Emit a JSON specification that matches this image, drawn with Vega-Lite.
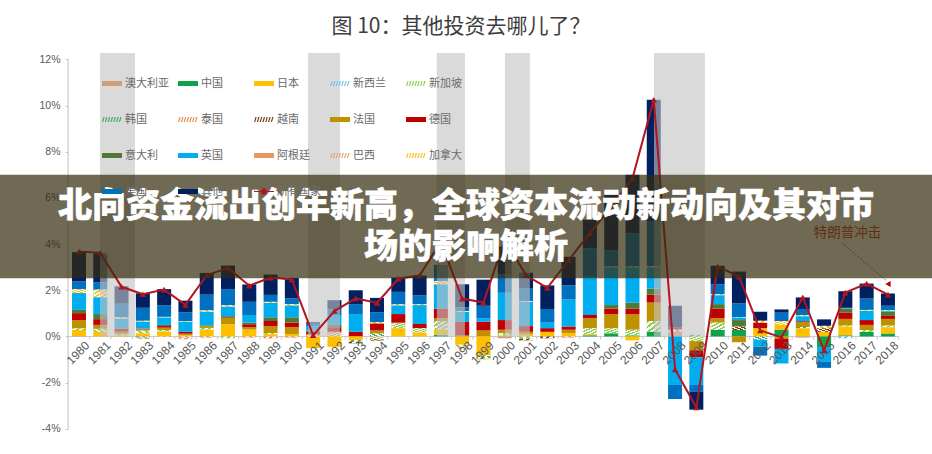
{
"$schema":"https://vega.github.io/schema/vega-lite/v6.json",
"width":932,"height":454,"autosize":"none","padding":0,"background":"white",
"title":{"text":"图 10：其他投资去哪儿了？","font":"Noto Sans CJK SC","fontSize":21,"fontWeight":"normal","color":"#3d3d3d","anchor":"middle","dx":-5,"dy":41},
"config":{"view":{"stroke":null},"axis":{"grid":false}},
"datasets":{
"bars":[
{"year":1980,"country":"澳大利亚","order":1,"value":0.02},{"year":1980,"country":"日本","order":3,"value":0.26},{"year":1980,"country":"新加坡","order":5,"value":0.07},{"year":1980,"country":"法国","order":9,"value":0.35},{"year":1980,"country":"德国","order":10,"value":0.31},{"year":1980,"country":"意大利","order":11,"value":0.14},{"year":1980,"country":"英国","order":12,"value":0.73},{"year":1980,"country":"加拿大","order":15,"value":0.17},{"year":1980,"country":"美国","order":16,"value":0.33},{"year":1980,"country":"其他","order":17,"value":1.27},
{"year":1981,"country":"日本","order":3,"value":0.2},{"year":1981,"country":"新加坡","order":5,"value":0.13},{"year":1981,"country":"法国","order":9,"value":0.17},{"year":1981,"country":"德国","order":10,"value":0.25},{"year":1981,"country":"意大利","order":11,"value":0.22},{"year":1981,"country":"英国","order":12,"value":0.73},{"year":1981,"country":"加拿大","order":15,"value":0.33},{"year":1981,"country":"美国","order":16,"value":0.32},{"year":1981,"country":"其他","order":17,"value":1.25},
{"year":1982,"country":"日本","order":3,"value":0.05},{"year":1982,"country":"新加坡","order":5,"value":0.05},{"year":1982,"country":"法国","order":9,"value":0.1},{"year":1982,"country":"德国","order":10,"value":0.15},{"year":1982,"country":"英国","order":12,"value":0.43},{"year":1982,"country":"加拿大","order":15,"value":0.05},{"year":1982,"country":"美国","order":16,"value":0.59},{"year":1982,"country":"其他","order":17,"value":0.75},
{"year":1983,"country":"日本","order":3,"value":0.14},{"year":1983,"country":"新加坡","order":5,"value":0.11},{"year":1983,"country":"法国","order":9,"value":0.06},{"year":1983,"country":"德国","order":10,"value":0.02},{"year":1983,"country":"意大利","order":11,"value":0.02},{"year":1983,"country":"英国","order":12,"value":0.3},{"year":1983,"country":"加拿大","order":15,"value":0.03},{"year":1983,"country":"美国","order":16,"value":0.56},{"year":1983,"country":"其他","order":17,"value":0.63},{"year":1983,"country":"韩国","order":6,"value":-0.05},{"year":1983,"country":"泰国","order":7,"value":-0.05},
{"year":1984,"country":"日本","order":3,"value":0.22},{"year":1984,"country":"新加坡","order":5,"value":0.06},{"year":1984,"country":"法国","order":9,"value":0.1},{"year":1984,"country":"德国","order":10,"value":0.07},{"year":1984,"country":"意大利","order":11,"value":0.05},{"year":1984,"country":"英国","order":12,"value":0.33},{"year":1984,"country":"加拿大","order":15,"value":0.02},{"year":1984,"country":"美国","order":16,"value":0.5},{"year":1984,"country":"其他","order":17,"value":0.7},{"year":1984,"country":"泰国","order":7,"value":-0.02},
{"year":1985,"country":"日本","order":3,"value":0.05},{"year":1985,"country":"法国","order":9,"value":0.07},{"year":1985,"country":"德国","order":10,"value":0.08},{"year":1985,"country":"英国","order":12,"value":0.45},{"year":1985,"country":"加拿大","order":15,"value":0.02},{"year":1985,"country":"美国","order":16,"value":0.38},{"year":1985,"country":"其他","order":17,"value":0.5},{"year":1985,"country":"泰国","order":7,"value":-0.05},{"year":1985,"country":"巴西","order":14,"value":-0.07},
{"year":1986,"country":"日本","order":3,"value":0.3},{"year":1986,"country":"新加坡","order":5,"value":0.07},{"year":1986,"country":"法国","order":9,"value":0.08},{"year":1986,"country":"意大利","order":11,"value":0.03},{"year":1986,"country":"英国","order":12,"value":0.6},{"year":1986,"country":"加拿大","order":15,"value":0.05},{"year":1986,"country":"美国","order":16,"value":0.68},{"year":1986,"country":"其他","order":17,"value":0.94},{"year":1986,"country":"泰国","order":7,"value":-0.05},
{"year":1987,"country":"日本","order":3,"value":0.53},{"year":1987,"country":"法国","order":9,"value":0.27},{"year":1987,"country":"德国","order":10,"value":0.03},{"year":1987,"country":"意大利","order":11,"value":0.05},{"year":1987,"country":"英国","order":12,"value":0.42},{"year":1987,"country":"加拿大","order":15,"value":0.05},{"year":1987,"country":"美国","order":16,"value":0.7},{"year":1987,"country":"其他","order":17,"value":1.02},{"year":1987,"country":"新加坡","order":5,"value":-0.08},
{"year":1988,"country":"日本","order":3,"value":0.3},{"year":1988,"country":"法国","order":9,"value":0.1},{"year":1988,"country":"德国","order":10,"value":0.13},{"year":1988,"country":"意大利","order":11,"value":0.07},{"year":1988,"country":"英国","order":12,"value":0.33},{"year":1988,"country":"美国","order":16,"value":0.57},{"year":1988,"country":"其他","order":17,"value":0.75},{"year":1988,"country":"泰国","order":7,"value":-0.05},
{"year":1989,"country":"日本","order":3,"value":0.1},{"year":1989,"country":"新加坡","order":5,"value":0.05},{"year":1989,"country":"法国","order":9,"value":0.3},{"year":1989,"country":"德国","order":10,"value":0.22},{"year":1989,"country":"意大利","order":11,"value":0.16},{"year":1989,"country":"英国","order":12,"value":0.62},{"year":1989,"country":"加拿大","order":15,"value":0.05},{"year":1989,"country":"美国","order":16,"value":0.3},{"year":1989,"country":"其他","order":17,"value":0.88},{"year":1989,"country":"泰国","order":7,"value":-0.08},
{"year":1990,"country":"日本","order":3,"value":0.1},{"year":1990,"country":"法国","order":9,"value":0.3},{"year":1990,"country":"德国","order":10,"value":0.2},{"year":1990,"country":"意大利","order":11,"value":0.23},{"year":1990,"country":"英国","order":12,"value":0.52},{"year":1990,"country":"加拿大","order":15,"value":0.05},{"year":1990,"country":"美国","order":16,"value":0.25},{"year":1990,"country":"其他","order":17,"value":0.88},{"year":1990,"country":"泰国","order":7,"value":-0.05},
{"year":1991,"country":"泰国","order":7,"value":0.05},{"year":1991,"country":"法国","order":9,"value":0.05},{"year":1991,"country":"德国","order":10,"value":0.1},{"year":1991,"country":"意大利","order":11,"value":0.05},{"year":1991,"country":"英国","order":12,"value":0.2},{"year":1991,"country":"美国","order":16,"value":0.1},{"year":1991,"country":"其他","order":17,"value":0.07},{"year":1991,"country":"日本","order":3,"value":-0.5},
{"year":1992,"country":"泰国","order":7,"value":0.2},{"year":1992,"country":"德国","order":10,"value":0.2},{"year":1992,"country":"意大利","order":11,"value":0.1},{"year":1992,"country":"英国","order":12,"value":0.43},{"year":1992,"country":"美国","order":16,"value":0.25},{"year":1992,"country":"其他","order":17,"value":0.39},{"year":1992,"country":"日本","order":3,"value":-0.45},
{"year":1993,"country":"德国","order":10,"value":0.2},{"year":1993,"country":"英国","order":12,"value":0.77},{"year":1993,"country":"美国","order":16,"value":0.43},{"year":1993,"country":"其他","order":17,"value":0.6},{"year":1993,"country":"日本","order":3,"value":-0.15},{"year":1993,"country":"韩国","order":6,"value":-0.08},{"year":1993,"country":"越南","order":8,"value":-0.07},
{"year":1994,"country":"韩国","order":6,"value":0.13},{"year":1994,"country":"法国","order":9,"value":0.13},{"year":1994,"country":"德国","order":10,"value":0.31},{"year":1994,"country":"加拿大","order":15,"value":0.05},{"year":1994,"country":"美国","order":16,"value":0.43},{"year":1994,"country":"其他","order":17,"value":0.62},{"year":1994,"country":"新加坡","order":5,"value":-0.06},{"year":1994,"country":"泰国","order":7,"value":-0.06},{"year":1994,"country":"越南","order":8,"value":-0.06},
{"year":1995,"country":"日本","order":3,"value":0.36},{"year":1995,"country":"新加坡","order":5,"value":0.21},{"year":1995,"country":"法国","order":9,"value":0.03},{"year":1995,"country":"德国","order":10,"value":0.37},{"year":1995,"country":"英国","order":12,"value":0.38},{"year":1995,"country":"加拿大","order":15,"value":0.04},{"year":1995,"country":"美国","order":16,"value":0.54},{"year":1995,"country":"其他","order":17,"value":0.62},
{"year":1996,"country":"日本","order":3,"value":0.17},{"year":1996,"country":"新加坡","order":5,"value":0.19},{"year":1996,"country":"德国","order":10,"value":0.18},{"year":1996,"country":"英国","order":12,"value":0.82},{"year":1996,"country":"加拿大","order":15,"value":0.04},{"year":1996,"country":"美国","order":16,"value":0.39},{"year":1996,"country":"其他","order":17,"value":0.85},
{"year":1997,"country":"中国","order":2,"value":0.07},{"year":1997,"country":"日本","order":3,"value":0.23},{"year":1997,"country":"新加坡","order":5,"value":0.37},{"year":1997,"country":"法国","order":9,"value":0.12},{"year":1997,"country":"德国","order":10,"value":0.42},{"year":1997,"country":"英国","order":12,"value":1.05},{"year":1997,"country":"加拿大","order":15,"value":0.14},{"year":1997,"country":"美国","order":16,"value":0.7},
{"year":1998,"country":"中国","order":2,"value":0.05},{"year":1998,"country":"德国","order":10,"value":0.58},{"year":1998,"country":"英国","order":12,"value":0.43},{"year":1998,"country":"加拿大","order":15,"value":0.04},{"year":1998,"country":"美国","order":16,"value":0.16},{"year":1998,"country":"其他","order":17,"value":1.0},{"year":1998,"country":"日本","order":3,"value":-0.35},{"year":1998,"country":"新加坡","order":5,"value":-0.1},{"year":1998,"country":"泰国","order":7,"value":-0.1},
{"year":1999,"country":"法国","order":9,"value":0.26},{"year":1999,"country":"德国","order":10,"value":0.38},{"year":1999,"country":"英国","order":12,"value":0.15},{"year":1999,"country":"美国","order":16,"value":0.54},{"year":1999,"country":"其他","order":17,"value":1.13},{"year":1999,"country":"日本","order":3,"value":-0.8},{"year":1999,"country":"新加坡","order":5,"value":-0.05},{"year":1999,"country":"韩国","order":6,"value":-0.1},{"year":1999,"country":"加拿大","order":15,"value":-0.05},
{"year":2000,"country":"日本","order":3,"value":0.05},{"year":2000,"country":"新加坡","order":5,"value":0.09},{"year":2000,"country":"法国","order":9,"value":0.15},{"year":2000,"country":"德国","order":10,"value":0.42},{"year":2000,"country":"英国","order":12,"value":1.18},{"year":2000,"country":"美国","order":16,"value":0.8},{"year":2000,"country":"其他","order":17,"value":1.2},{"year":2000,"country":"澳大利亚","order":1,"value":-0.08},
{"year":2001,"country":"日本","order":3,"value":0.1},{"year":2001,"country":"法国","order":9,"value":0.1},{"year":2001,"country":"德国","order":10,"value":0.25},{"year":2001,"country":"英国","order":12,"value":1.05},{"year":2001,"country":"加拿大","order":15,"value":0.03},{"year":2001,"country":"美国","order":16,"value":0.54},{"year":2001,"country":"其他","order":17,"value":0.69},{"year":2001,"country":"新加坡","order":5,"value":-0.1},{"year":2001,"country":"越南","order":8,"value":-0.07},
{"year":2002,"country":"日本","order":3,"value":0.2},{"year":2002,"country":"德国","order":10,"value":0.16},{"year":2002,"country":"英国","order":12,"value":0.24},{"year":2002,"country":"美国","order":16,"value":0.59},{"year":2002,"country":"其他","order":17,"value":1.02},{"year":2002,"country":"越南","order":8,"value":-0.08},
{"year":2003,"country":"日本","order":3,"value":0.14},{"year":2003,"country":"法国","order":9,"value":0.15},{"year":2003,"country":"德国","order":10,"value":0.14},{"year":2003,"country":"英国","order":12,"value":1.17},{"year":2003,"country":"美国","order":16,"value":0.61},{"year":2003,"country":"其他","order":17,"value":1.24},{"year":2003,"country":"泰国","order":7,"value":-0.05},
{"year":2004,"country":"中国","order":2,"value":0.05},{"year":2004,"country":"日本","order":3,"value":0.05},{"year":2004,"country":"新加坡","order":5,"value":0.26},{"year":2004,"country":"法国","order":9,"value":0.43},{"year":2004,"country":"德国","order":10,"value":0.14},{"year":2004,"country":"英国","order":12,"value":1.65},{"year":2004,"country":"美国","order":16,"value":1.24},{"year":2004,"country":"其他","order":17,"value":1.23},
{"year":2005,"country":"中国","order":2,"value":0.14},{"year":2005,"country":"新加坡","order":5,"value":0.22},{"year":2005,"country":"法国","order":9,"value":0.61},{"year":2005,"country":"德国","order":10,"value":0.24},{"year":2005,"country":"意大利","order":11,"value":0.15},{"year":2005,"country":"英国","order":12,"value":1.64},{"year":2005,"country":"加拿大","order":15,"value":0.03},{"year":2005,"country":"美国","order":16,"value":0.71},{"year":2005,"country":"其他","order":17,"value":2.46},
{"year":2006,"country":"中国","order":2,"value":0.05},{"year":2006,"country":"新加坡","order":5,"value":0.24},{"year":2006,"country":"法国","order":9,"value":0.67},{"year":2006,"country":"德国","order":10,"value":0.25},{"year":2006,"country":"意大利","order":11,"value":0.25},{"year":2006,"country":"英国","order":12,"value":1.54},{"year":2006,"country":"加拿大","order":15,"value":0.03},{"year":2006,"country":"美国","order":16,"value":1.44},{"year":2006,"country":"其他","order":17,"value":2.53},{"year":2006,"country":"日本","order":3,"value":-0.17},
{"year":2007,"country":"中国","order":2,"value":0.2},{"year":2007,"country":"新加坡","order":5,"value":0.47},{"year":2007,"country":"法国","order":9,"value":0.8},{"year":2007,"country":"德国","order":10,"value":0.34},{"year":2007,"country":"意大利","order":11,"value":0.26},{"year":2007,"country":"英国","order":12,"value":0.93},{"year":2007,"country":"加拿大","order":15,"value":0.05},{"year":2007,"country":"美国","order":16,"value":1.95},{"year":2007,"country":"其他","order":17,"value":5.25},
{"year":2008,"country":"澳大利亚","order":1,"value":0.2},{"year":2008,"country":"泰国","order":7,"value":0.1},{"year":2008,"country":"德国","order":10,"value":0.08},{"year":2008,"country":"其他","order":17,"value":0.95},{"year":2008,"country":"英国","order":12,"value":-2.1},{"year":2008,"country":"美国","order":16,"value":-0.61},
{"year":2009,"country":"韩国","order":6,"value":0.07},{"year":2009,"country":"新加坡","order":5,"value":-0.2},{"year":2009,"country":"法国","order":9,"value":-0.4},{"year":2009,"country":"德国","order":10,"value":-0.3},{"year":2009,"country":"英国","order":12,"value":-1.2},{"year":2009,"country":"美国","order":16,"value":-0.3},{"year":2009,"country":"其他","order":17,"value":-0.77},
{"year":2010,"country":"中国","order":2,"value":0.28},{"year":2010,"country":"新加坡","order":5,"value":0.32},{"year":2010,"country":"法国","order":9,"value":0.19},{"year":2010,"country":"德国","order":10,"value":0.42},{"year":2010,"country":"意大利","order":11,"value":0.19},{"year":2010,"country":"英国","order":12,"value":0.39},{"year":2010,"country":"加拿大","order":15,"value":0.04},{"year":2010,"country":"美国","order":16,"value":0.43},{"year":2010,"country":"其他","order":17,"value":0.8},
{"year":2011,"country":"中国","order":2,"value":0.28},{"year":2011,"country":"越南","order":8,"value":0.15},{"year":2011,"country":"意大利","order":11,"value":0.28},{"year":2011,"country":"英国","order":12,"value":0.1},{"year":2011,"country":"加拿大","order":15,"value":0.02},{"year":2011,"country":"美国","order":16,"value":0.6},{"year":2011,"country":"其他","order":17,"value":1.38},{"year":2011,"country":"法国","order":9,"value":-0.25},
{"year":2012,"country":"日本","order":3,"value":0.36},{"year":2012,"country":"德国","order":10,"value":0.24},{"year":2012,"country":"加拿大","order":15,"value":0.08},{"year":2012,"country":"其他","order":17,"value":0.39},{"year":2012,"country":"韩国","order":6,"value":-0.14},{"year":2012,"country":"英国","order":12,"value":-0.3},{"year":2012,"country":"美国","order":16,"value":-0.39},
{"year":2013,"country":"中国","order":2,"value":0.3},{"year":2013,"country":"日本","order":3,"value":0.2},{"year":2013,"country":"加拿大","order":15,"value":0.17},{"year":2013,"country":"美国","order":16,"value":0.36},{"year":2013,"country":"其他","order":17,"value":0.14},{"year":2013,"country":"法国","order":9,"value":-0.1},{"year":2013,"country":"德国","order":10,"value":-0.44},{"year":2013,"country":"英国","order":12,"value":-0.63},
{"year":2014,"country":"韩国","order":6,"value":0.05},{"year":2014,"country":"日本","order":3,"value":0.36},{"year":2014,"country":"法国","order":9,"value":0.21},{"year":2014,"country":"德国","order":10,"value":0.04},{"year":2014,"country":"英国","order":12,"value":0.22},{"year":2014,"country":"加拿大","order":15,"value":0.05},{"year":2014,"country":"美国","order":16,"value":0.26},{"year":2014,"country":"其他","order":17,"value":0.5},{"year":2014,"country":"澳大利亚","order":1,"value":-0.05},
{"year":2015,"country":"日本","order":3,"value":0.2},{"year":2015,"country":"越南","order":8,"value":0.16},{"year":2015,"country":"加拿大","order":15,"value":0.1},{"year":2015,"country":"其他","order":17,"value":0.28},{"year":2015,"country":"中国","order":2,"value":-0.46},{"year":2015,"country":"英国","order":12,"value":-0.64},{"year":2015,"country":"美国","order":16,"value":-0.26},
{"year":2016,"country":"中国","order":2,"value":0.05},{"year":2016,"country":"日本","order":3,"value":0.38},{"year":2016,"country":"新加坡","order":5,"value":0.04},{"year":2016,"country":"法国","order":9,"value":0.29},{"year":2016,"country":"德国","order":10,"value":0.28},{"year":2016,"country":"意大利","order":11,"value":0.17},{"year":2016,"country":"英国","order":12,"value":0.03},{"year":2016,"country":"其他","order":17,"value":0.72},{"year":2016,"country":"新西兰","order":4,"value":-0.08},
{"year":2017,"country":"中国","order":2,"value":0.2},{"year":2017,"country":"新加坡","order":5,"value":0.08},{"year":2017,"country":"法国","order":9,"value":0.22},{"year":2017,"country":"德国","order":10,"value":0.21},{"year":2017,"country":"英国","order":12,"value":0.4},{"year":2017,"country":"加拿大","order":15,"value":0.04},{"year":2017,"country":"美国","order":16,"value":0.49},{"year":2017,"country":"其他","order":17,"value":0.65},
{"year":2018,"country":"中国","order":2,"value":0.13},{"year":2018,"country":"日本","order":3,"value":0.27},{"year":2018,"country":"新加坡","order":5,"value":0.07},{"year":2018,"country":"法国","order":9,"value":0.29},{"year":2018,"country":"德国","order":10,"value":0.13},{"year":2018,"country":"意大利","order":11,"value":0.18},{"year":2018,"country":"英国","order":12,"value":0.04},{"year":2018,"country":"加拿大","order":15,"value":0.03},{"year":2018,"country":"美国","order":16,"value":0.19},{"year":2018,"country":"其他","order":17,"value":0.53}
],
"total":[
{"year":1980,"country":"所有国家","value":3.68},{"year":1981,"country":"所有国家","value":3.62},{"year":1982,"country":"所有国家","value":2.15},{"year":1983,"country":"所有国家","value":1.83},{"year":1984,"country":"所有国家","value":2.03},{"year":1985,"country":"所有国家","value":1.37},{"year":1986,"country":"所有国家","value":2.65},{"year":1987,"country":"所有国家","value":2.97},{"year":1988,"country":"所有国家","value":2.2},{"year":1989,"country":"所有国家","value":2.55},{"year":1990,"country":"所有国家","value":2.47},{"year":1991,"country":"所有国家","value":0.05},{"year":1992,"country":"所有国家","value":1.1},{"year":1993,"country":"所有国家","value":1.65},{"year":1994,"country":"所有国家","value":1.45},{"year":1995,"country":"所有国家","value":2.5},{"year":1996,"country":"所有国家","value":2.64},{"year":1997,"country":"所有国家","value":4.1},{"year":1998,"country":"所有国家","value":1.64},{"year":1999,"country":"所有国家","value":1.47},{"year":2000,"country":"所有国家","value":4.2},{"year":2001,"country":"所有国家","value":2.65},{"year":2002,"country":"所有国家","value":2.1},{"year":2003,"country":"所有国家","value":3.3},{"year":2004,"country":"所有国家","value":4.47},{"year":2005,"country":"所有国家","value":5.6},{"year":2006,"country":"所有国家","value":6.85},{"year":2007,"country":"所有国家","value":10.25},{"year":2008,"country":"所有国家","value":-1.43},{"year":2009,"country":"所有国家","value":-3.07},{"year":2010,"country":"所有国家","value":3.03},{"year":2011,"country":"所有国家","value":2.6},{"year":2012,"country":"所有国家","value":0.26},{"year":2013,"country":"所有国家","value":-0.04},{"year":2014,"country":"所有国家","value":1.69},{"year":2015,"country":"所有国家","value":-0.61},{"year":2016,"country":"所有国家","value":1.9},{"year":2017,"country":"所有国家","value":2.29},{"year":2018,"country":"所有国家","value":1.81}
],
"edges":[{"year":1979.5},{"year":1980.5},{"year":1981.5},{"year":1982.5},{"year":1983.5},{"year":1984.5},{"year":1985.5},{"year":1986.5},{"year":1987.5},{"year":1988.5},{"year":1989.5},{"year":1990.5},{"year":1991.5},{"year":1992.5},{"year":1993.5},{"year":1994.5},{"year":1995.5},{"year":1996.5},{"year":1997.5},{"year":1998.5},{"year":1999.5},{"year":2000.5},{"year":2001.5},{"year":2002.5},{"year":2003.5},{"year":2004.5},{"year":2005.5},{"year":2006.5},{"year":2007.5},{"year":2008.5},{"year":2009.5},{"year":2010.5},{"year":2011.5},{"year":2012.5},{"year":2013.5},{"year":2014.5},{"year":2015.5},{"year":2016.5},{"year":2017.5},{"year":2018.5}],
"bands":[{"start":1980.99,"end":1982.63,"low":0,"high":12.28},{"start":1990.76,"end":1992.26,"low":0,"high":12.28},{"start":1996.81,"end":1998.13,"low":0,"high":12.28},{"start":2000.01,"end":2001.18,"low":0,"high":12.28},{"start":2007.01,"end":2009.4,"low":0,"high":12.28}],
"trump":[{"year":2015.84,"value":4.05},{"year":2017.95,"value":2.4}]
},
"encoding":{"x":{"type":"quantitative","scale":{"domain":[1976.29,2020.07],"nice":false,"zero":false,"padding":0},"axis":null}},
"layer":[
{"data":{"name":"edges"},"mark":{"type":"rule","color":"#c9c9c9","strokeWidth":1},
 "encoding":{"x":{"field":"year","type":"quantitative"},"y":{"datum":-0.13,"type":"quantitative"},"y2":{"datum":0}}},
{"data":{"name":"edges"},"transform":[{"aggregate":[{"op":"min","field":"year","as":"lo"},{"op":"max","field":"year","as":"hi"}]}],"mark":{"type":"rule","color":"#c9c9c9","strokeWidth":1},
 "encoding":{"x":{"field":"lo","type":"quantitative"},"x2":{"field":"hi"},"y":{"datum":0,"type":"quantitative"}}},
{"data":{"values":[{"year":1979.49,"low":-4,"high":12}]},"mark":{"type":"rule","color":"#c9c9c9","strokeWidth":1.2},
 "encoding":{"x":{"field":"year","type":"quantitative"},"y":{"field":"low","type":"quantitative","scale":{"domain":[-5.09,14.57],"nice":false,"zero":false},"axis":{"orient":"left","offset":-68,"title":null,"domain":false,"values":[-4,-2,0,2,4,6,8,10,12],"labelExpr":"datum.value + '%'","labelFont":"Liberation Sans","labelFontSize":10.5,"labelColor":"#595959","tickColor":"#c9c9c9","tickSize":3,"labelPadding":5}},"y2":{"field":"high"}}},
{"data":{"name":"bars"},"mark":{"type":"bar","size":14,"orient":"vertical"},
 "encoding":{"x":{"field":"year","type":"quantitative"},
 "y":{"field":"value","type":"quantitative","stack":"zero"},
 "order":{"field":"order","type":"quantitative"},
 "color":{"field":"country","type":"nominal","scale":{"domain":["澳大利亚","中国","日本","新西兰","新加坡","韩国","泰国","越南","法国","德国","意大利","英国","阿根廷","巴西","加拿大","美国","其他","所有国家"],
 "range":["#cb9e7c","#0fa24a","#ffc000","#6fc4ea","#8fce4f","#3fa96b","#e98b4a","#7a3b10","#bf9000","#c00000","#4f7a35","#00aeef","#e9975a","#e2a27f","#f5c21c","#0070c0","#002060","#b3141e"]},
 "legend":{"orient":"none","legendX":102,"legendY":73.5,"direction":"horizontal","columns":5,"title":null,"symbolLimit":0,"labelFont":"Noto Sans CJK SC","labelFontSize":11,"labelColor":"#6a6a6a","labelLimit":60,"gridAlign":"all","columnPadding":9,"rowPadding":21,"symbolType":"M-1,-0.25H1V0.25H-1Z","symbolSize":400,"symbolStrokeWidth":0,"labelOffset":3,
 "encode":{"symbols":{"update":{"opacity":{"value":1},"fill":{"scale":"color","field":"value"},"stroke":{"value":"transparent"},"shape":{"signal":"datum.value === '所有国家' ? 'M-1,-0.06H-0.3L0,-0.4L0.3,-0.06H1V0.06H0.3L0.2,0.3H-0.2L-0.3,0.06H-1Z' : indexof(['新西兰','新加坡','韩国','泰国','越南','巴西','加拿大'], datum.value) >= 0 ? 'M-1,0.25h0.12l0.15,-0.5h-0.12zm0.28,0h0.12l0.15,-0.5h-0.12zm0.28,0h0.12l0.15,-0.5h-0.12zm0.28,0h0.12l0.15,-0.5h-0.12zm0.28,0h0.12l0.15,-0.5h-0.12zm0.28,0h0.12l0.15,-0.5h-0.12zm0.28,0h0.12l0.15,-0.5h-0.12z' : 'M-1,-0.25H1V0.25H-1Z'"}}}}}}}},
{"data":{"name":"bars"},"mark":{"type":"bar","size":14,"orient":"vertical","color":{"gradient":"linear","x1":0,"y1":0,"x2":1,"y2":1,"stops":[{"offset":0,"color":"rgba(255,255,255,0)"},{"offset":0.12,"color":"rgba(255,255,255,0)"},{"offset":0.12,"color":"#ffffff"},{"offset":0.24,"color":"#ffffff"},{"offset":0.24,"color":"rgba(255,255,255,0)"},{"offset":0.36,"color":"rgba(255,255,255,0)"},{"offset":0.36,"color":"#ffffff"},{"offset":0.48,"color":"#ffffff"},{"offset":0.48,"color":"rgba(255,255,255,0)"},{"offset":0.6,"color":"rgba(255,255,255,0)"},{"offset":0.6,"color":"#ffffff"},{"offset":0.72,"color":"#ffffff"},{"offset":0.72,"color":"rgba(255,255,255,0)"},{"offset":0.84,"color":"rgba(255,255,255,0)"},{"offset":0.84,"color":"#ffffff"},{"offset":1,"color":"#ffffff"}]}},
 "encoding":{"x":{"field":"year","type":"quantitative"},
 "y":{"field":"value","type":"quantitative","stack":"zero"},
 "order":{"field":"order","type":"quantitative"},
 "detail":{"field":"country"},
 "opacity":{"condition":{"test":"indexof(['新西兰','新加坡','韩国','泰国','越南','巴西','加拿大'], datum.country) >= 0","value":1},"value":0}}},
{"data":{"name":"total"},"mark":{"type":"text","angle":315,"align":"right","baseline":"middle","font":"Liberation Sans","fontSize":12,"color":"#595959","dx":1,"dy":11},
 "encoding":{"x":{"field":"year","type":"quantitative"},"y":{"datum":0,"type":"quantitative"},"text":{"field":"year","type":"quantitative","format":"d"}}},
{"data":{"name":"bands"},"mark":{"type":"rect","color":"#c4c4c4","opacity":0.62},
 "encoding":{"x":{"field":"start","type":"quantitative"},"x2":{"field":"end"},"y":{"field":"low","type":"quantitative"},"y2":{"field":"high"}}},
{"data":{"name":"total"},"mark":{"type":"line","strokeWidth":2},
 "encoding":{"x":{"field":"year","type":"quantitative"},"y":{"field":"value","type":"quantitative"},"color":{"field":"country","type":"nominal","legend":null}}},
{"data":{"name":"total"},"mark":{"type":"point","filled":true,"shape":"triangle-up","size":42,"opacity":1},
 "encoding":{"x":{"field":"year","type":"quantitative"},"y":{"field":"value","type":"quantitative"},"color":{"field":"country","type":"nominal","legend":null}}},
{"data":{"name":"trump"},"mark":{"type":"line","color":"#8f2a1c","strokeWidth":1,"strokeDash":[1.5,2]},
 "encoding":{"x":{"field":"year","type":"quantitative"},"y":{"field":"value","type":"quantitative"}}},
{"data":{"values":[{"year":2018,"value":2.27}]},"mark":{"type":"point","filled":true,"shape":"triangle-left","size":38,"color":"#c00000","opacity":1},
 "encoding":{"x":{"field":"year","type":"quantitative"},"y":{"field":"value","type":"quantitative"}}},
{"data":{"values":[{"year":2016.1,"value":4.49,"note":"特朗普冲击"}]},"mark":{"type":"text","font":"Noto Sans CJK SC","fontSize":13.5,"color":"#c5391f"},
 "encoding":{"x":{"field":"year","type":"quantitative"},"y":{"field":"value","type":"quantitative"},"text":{"field":"note"}}},
{"data":{"values":[{"start":1976.29,"end":2020.07,"low":2.52,"high":7.0}]},"mark":{"type":"rect","color":"#332b0d","opacity":0.7},
 "encoding":{"x":{"field":"start","type":"quantitative"},"x2":{"field":"end"},"y":{"field":"low","type":"quantitative"},"y2":{"field":"high"}}},
{"data":{"values":[{"year":1998.18,"value":5.6,"headline":"北向资金流出创年新高，全球资本流动新动向及其对市"},{"year":1998.18,"value":3.83,"headline":"场的影响解析"}]},"mark":{"type":"text","font":"Noto Sans CJK SC","fontSize":34,"fontWeight":900,"color":"white","stroke":"white","strokeWidth":0.6},
 "encoding":{"x":{"field":"year","type":"quantitative"},"y":{"field":"value","type":"quantitative"},"text":{"field":"headline"}}}
]
}
